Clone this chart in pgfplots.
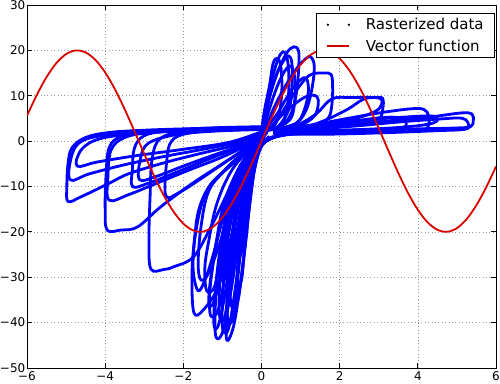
\documentclass[border=0pt]{standalone}
\usepackage{fontspec}
\setmainfont{DejaVu Sans}
\usepackage{pgfplots}
\pgfplotsset{compat=1.18}
\begin{document}
\begin{tikzpicture}
\begin{axis}[name=ax, scale only axis, width=469pt, height=363pt,
  xmin=-6, xmax=6, ymin=-50, ymax=30,
  xtick={-6,-4,...,6}, ytick={-50,-40,...,30},
  xticklabels={−6,−4,−2,0,2,4,6},
  yticklabels={−50,−40,−30,−20,−10,0,10,20,30},
  tick label style={font=\fontsize{12}{14.4}\selectfont},
  yticklabel style={inner xsep=0pt, xshift=-1.5pt},
  grid=major, grid style={gray!80, line width=0.6pt, dash pattern=on 0.8pt off 2.6pt},
  major tick length=5pt,
  tick style={black, line width=0.8pt},
  axis line style={line width=0.9pt},
  legend style={at={(1,1)}, anchor=north east, xshift=-1pt, yshift=-8pt,
    draw=black, line width=0.8pt, fill=white, font=\fontsize{15}{18}\selectfont,
    inner xsep=0pt, inner ysep=0.5pt, row sep=0pt, column sep=0pt,
    nodes={draw=none, fill=none, inner xsep=0pt, inner ysep=0pt}},
  legend cell align=left,
  blueline/.style={blue, line width=2.8pt, smooth, tension=0.6, line join=round, forget plot},
]
% ---- left loops
\addplot[blueline] coordinates {(0.2,3.1) (-1,2.9) (-2,2.7) (-3,2.4) (-3.9,1.9) (-4.5,0.8) (-4.85,-1.5) (-4.95,-5) (-4.98,-10) (-4.95,-13.3) (-4.6,-12.2) (-3.9,-9.3) (-3.4,-7.2) (-2.5,-4.8) (-1.5,-2.6) (-0.6,-0.8) (0,1) (0.2,3.1)};
\addplot[blueline] coordinates {(0.2,2.9) (-1.5,2.6) (-3,2.1) (-4,1.3) (-4.6,0) (-4.85,-3) (-4.9,-8.5) (-4.4,-7.2) (-3.5,-5.2) (-2.5,-3.4) (-1.5,-1.8) (-0.5,0) (0.2,2.9)};
\addplot[blueline] coordinates {(0.2,2.7) (-1.5,2.4) (-3,1.8) (-4.1,0.6) (-4.6,-1.8) (-4.72,-5.5) (-4.2,-4.6) (-3.2,-3.2) (-2,-1.8) (-0.8,-0.2) (0.2,2.7)};
\addplot[blueline] coordinates {(0.2,3.2) (-1,3) (-2,2.6) (-3,2.0) (-3.6,1.0) (-3.9,-1.5) (-3.98,-8) (-4.0,-15) (-3.95,-19.6) (-3.6,-19.6) (-3.17,-18.9) (-2.58,-14.5) (-1.8,-9.5) (-1,-5) (-0.4,-1.5) (0.2,3.2)};
\addplot[blueline] coordinates {(0.2,2.8) (-1.5,2.5) (-2.8,1.9) (-3.5,0.8) (-3.85,-2) (-3.93,-8) (-3.9,-13) (-3.4,-11.8) (-2.6,-9) (-1.8,-6.2) (-1,-3.5) (-0.3,-0.5) (0.2,2.8)};
\addplot[blueline] coordinates {(0.2,3.0) (-1,2.7) (-2,2.1) (-2.6,0.5) (-2.8,-4) (-2.85,-12) (-2.88,-22) (-2.83,-28.2) (-2.5,-28.3) (-2.25,-27.7) (-1.74,-25.5) (-1.3,-19) (-0.9,-12) (-0.5,-5) (-0.1,0.5) (0.2,3.0)};
\addplot[blueline] coordinates {(0.2,2.7) (-1,2.4) (-1.9,1.7) (-2.3,0) (-2.42,-4) (-2.45,-12) (-2.1,-11.3) (-1.5,-8) (-0.9,-4.5) (-0.4,-1.5) (0.2,2.7)};
\addplot[blueline] coordinates {(0.2,3.0) (-1.2,2.7) (-2.4,2.2) (-3.0,1.2) (-3.25,-1.5) (-3.3,-6) (-3.3,-10) (-2.9,-9.3) (-2.1,-6.6) (-1.3,-3.8) (-0.5,-1) (0.2,3.0)};
\addplot[blueline] coordinates {(0.2,2.6) (-1.2,2.2) (-2.2,1.4) (-2.9,-0.5) (-3.1,-4) (-3.12,-8.5) (-2.7,-7.8) (-2.0,-5.5) (-1.2,-3) (-0.4,-0.6) (0.2,2.6)};
% ---- lower loops
\addplot[blueline] coordinates {(0.1,2) (-0.3,-1.5) (-0.8,-5.5) (-1.3,-9.5) (-1.6,-15) (-1.72,-22) (-1.78,-30) (-1.73,-37.8) (-1.5,-37.3) (-1.1,-32) (-0.8,-22) (-0.55,-13) (-0.3,-5) (0.0,-0.5) (0.5,1.3) (1.2,2)};
\addplot[blueline] coordinates {(0.1,2) (-0.25,-2) (-0.6,-8) (-0.9,-16) (-1.08,-26) (-1.18,-36) (-1.17,-43) (-1.0,-42.2) (-0.8,-34) (-0.62,-24) (-0.45,-15) (-0.25,-6) (0.05,-0.5) (0.5,1.2) (1.3,1.8)};
\addplot[blueline] coordinates {(0.15,2) (-0.15,-2) (-0.45,-9) (-0.68,-18) (-0.82,-30) (-0.9,-43.3) (-0.72,-41) (-0.55,-32) (-0.4,-22) (-0.28,-12) (-0.12,-4) (0.1,0) (0.6,1.4)};
\addplot[blueline] coordinates {(0.1,2) (-0.3,-2) (-0.7,-8) (-1.0,-15) (-1.2,-25) (-1.32,-33) (-1.3,-38.5) (-1.1,-37) (-0.9,-28) (-0.7,-18) (-0.45,-9) (-0.15,-2) (0.3,0.8)};
\addplot[blueline] coordinates {(0.1,2) (-0.2,-2) (-0.5,-8) (-0.7,-17) (-0.8,-27) (-0.78,-36) (-0.6,-35) (-0.45,-25) (-0.3,-14) (-0.15,-5) (0.1,0) (0.6,1.3)};
\addplot[blueline] coordinates {(0.1,2) (-0.4,-2) (-0.9,-6) (-1.35,-11) (-1.55,-19) (-1.62,-27) (-1.55,-30.6) (-1.35,-29) (-1.05,-22) (-0.75,-13) (-0.45,-6) (-0.1,-0.5) (0.1,2)};
\addplot[blueline] coordinates {(0.1,2) (-0.25,-2) (-0.55,-7) (-0.8,-14) (-0.95,-22) (-1.0,-29) (-0.9,-30) (-0.72,-25) (-0.55,-16) (-0.35,-8) (-0.1,-1.5) (0.3,0.8)};
\addplot[blueline] coordinates {(0.1,2) (-0.35,-2) (-0.8,-7) (-1.15,-14) (-1.35,-22) (-1.45,-28) (-1.4,-33) (-1.2,-32) (-1.0,-24) (-0.8,-15) (-0.5,-7) (-0.2,-1.5) (0.1,2)};
\addplot[blueline] coordinates {(0.1,2) (-0.2,-1) (-0.45,-6) (-0.62,-14) (-0.7,-22) (-0.65,-26) (-0.5,-24) (-0.35,-15) (-0.2,-7) (0,-1) (0.4,1)};
\addplot[blueline] coordinates {(0.1,2) (-0.3,-3) (-0.65,-10) (-0.9,-19) (-1.05,-29) (-1.08,-38) (-0.95,-39) (-0.78,-30) (-0.6,-20) (-0.42,-10) (-0.2,-3) (0.2,1)};
\addplot[blueline] coordinates {(0.1,2) (-0.2,-3) (-0.55,-12) (-0.75,-22) (-0.88,-33) (-0.85,-40) (-0.7,-38) (-0.58,-28) (-0.45,-18) (-0.3,-9) (-0.1,-2) (0.3,1)};
\addplot[blueline] coordinates {(0.1,2) (-0.3,-3) (-0.7,-11) (-0.98,-20) (-1.15,-30) (-1.22,-40) (-1.1,-40.5) (-0.9,-32) (-0.72,-21) (-0.5,-11) (-0.25,-4) (0.2,1)};
\addplot[blueline] coordinates {(0.0,2) (-0.15,-2) (-0.35,-8) (-0.5,-16) (-0.6,-26) (-0.62,-32) (-0.5,-30) (-0.4,-20) (-0.28,-10) (-0.1,-2) (0.3,1)};
\addplot[blueline] coordinates {(0.1,2) (-0.35,-3) (-0.75,-10) (-1.05,-18) (-1.25,-27) (-1.35,-35) (-1.25,-36) (-1.05,-30) (-0.85,-20) (-0.62,-11) (-0.35,-4) (0.1,0.8)};
\addplot[blueline] coordinates {(0.1,2) (-0.25,-3) (-0.6,-11) (-0.85,-21) (-0.98,-32) (-1.0,-41) (-0.85,-41.5) (-0.68,-33) (-0.52,-22) (-0.38,-12) (-0.2,-4) (0.2,1)};
\addplot[blueline] coordinates {(0.1,2) (-0.45,-2.5) (-1.0,-7) (-1.45,-12) (-1.68,-20) (-1.75,-28) (-1.62,-33) (-1.42,-30) (-1.2,-24) (-0.95,-16) (-0.6,-8) (-0.2,-1.5) (0.1,2)};
% ---- upper loops
\addplot[blueline] coordinates {(0.1,2.5) (0.12,6) (0.25,11) (0.45,16) (0.65,19.5) (0.83,20.8) (0.95,19.8) (0.95,16) (0.9,11) (0.8,7) (0.6,4) (0.3,2.6)};
\addplot[blueline] coordinates {(0.05,2.5) (0.1,7) (0.22,12) (0.38,17) (0.5,19.3) (0.6,19.5) (0.68,17) (0.7,12) (0.65,7) (0.5,3.5) (0.2,2.6)};
\addplot[blueline] coordinates {(0.0,2.3) (0.08,7) (0.2,12) (0.3,17.2) (0.42,18.2) (0.5,16) (0.52,11) (0.45,6) (0.3,3) (0.1,2.4)};
\addplot[blueline] coordinates {(0.1,2.5) (0.3,7) (0.6,12) (0.9,16) (1.15,18.3) (1.27,18.5) (1.35,16.5) (1.3,12) (1.15,7) (0.9,4) (0.5,2.8)};
\addplot[blueline] coordinates {(0.2,2.5) (0.5,6) (0.8,10) (1.1,13.5) (1.3,14.8) (1.6,15) (1.78,14.7) (1.82,12) (1.8,8) (1.7,5) (1.3,3.2) (0.6,2.6)};
\addplot[blueline] coordinates {(0.2,2.5) (0.5,5.5) (0.9,8.5) (1.2,10) (1.42,9.8) (1.45,8) (1.35,5.5) (1,3.5) (0.5,2.6)};
\addplot[blueline] coordinates {(0.1,2.5) (0.4,6) (0.75,11) (1.0,13.5) (1.15,13.8) (1.2,11) (1.1,7) (0.9,4) (0.4,2.7)};
\addplot[blueline] coordinates {(0.0,2.4) (0.15,8) (0.35,14) (0.55,17.5) (0.7,18.8) (0.78,17) (0.78,12) (0.7,7) (0.4,3) (0.1,2.4)};
\addplot[blueline] coordinates {(0.05,2.4) (0.2,7) (0.4,12) (0.6,15.5) (0.75,16.5) (0.85,14) (0.85,9) (0.75,5) (0.4,2.8)};
% ---- right loops
\addplot[blueline] coordinates {(0.3,2.0) (1,2.0) (2,2.2) (3,2.5) (4,2.7) (5,2.9) (5.35,3.2) (5.42,4.5) (5.38,6.0) (5.1,6.2) (4.3,5.3) (3.3,4.5) (2.2,3.8) (1.2,3.0) (0.3,2.4)};
\addplot[blueline] coordinates {(0.3,1.8) (1.2,1.8) (2.2,2.0) (3.2,2.2) (4.0,2.4) (4.25,3.0) (4.28,5.5) (4.15,7.0) (3.8,7.1) (3,6.2) (2.2,5) (1.3,3.6) (0.4,2.5)};
\addplot[blueline] coordinates {(0.3,2.2) (1.0,2.8) (1.6,4.5) (2.2,7) (2.6,9.2) (2.9,9.6) (3.1,9.4) (3.1,7) (3.0,5) (2.5,3.8) (1.5,3) (0.4,2.5)};
\addplot[blueline] coordinates {(0.3,2.1) (1.5,2.3) (2.5,2.5) (3.5,2.7) (3.7,3.5) (3.6,5.0) (3.1,5.2) (2.0,4.0) (1,3) (0.3,2.4)};
\addplot[blueline] coordinates {(0.3,1.6) (1.5,1.5) (3,1.8) (4.5,2.3) (5.2,2.6) (5.3,3.5) (5.15,5.0) (4.6,4.9) (3.5,4.2) (2.5,3.4) (1.3,2.6) (0.3,2.2)};
\addplot[blueline] coordinates {(0.3,2.3) (0.9,3.5) (1.4,6) (1.8,9.3) (2.3,9.6) (3.0,9.5) (3.07,8) (2.9,6.5) (2.4,5) (1.6,3.8) (0.5,2.5)};
\addplot[blueline] coordinates {(0.3,2.0) (1.8,2.3) (3.5,3) (4.4,4.0) (4.4,5.5) (3.5,5.2) (2.5,4.5) (1.5,3.5) (0.3,2.4)};
% ---- legend entry for the rasterized data
\addlegendimage{legend image code/.code={\path[draw=none, fill=none] (-10pt,-10.8pt) rectangle (39pt,10.8pt); \fill[black] (1pt,0pt) circle (0.7pt); \fill[black] (22pt,0pt) circle (0.7pt);}}
\addlegendentry{Rasterized data\hspace*{11pt}}
% ---- vector function
\addplot[red!85!black, line width=1.8pt, smooth,
  legend image code/.code={\path[draw=none, fill=none] (-10pt,-10.8pt) rectangle (39pt,10.8pt); \draw[red!85!black, line width=1.8pt] (0pt,0pt) -- (22pt,0pt);}]
  coordinates {
(-6,5.59) (-5.75,10.17) (-5.5,14.11) (-5.25,17.18) (-5,19.18) (-4.75,19.99) (-4.5,19.55) (-4.25,17.90) (-4,15.14) (-3.75,11.43) (-3.5,7.02) (-3.25,2.16) (-3,-2.82) (-2.75,-7.63) (-2.5,-11.97) (-2.25,-15.56) (-2,-18.19) (-1.75,-19.68) (-1.5,-19.95) (-1.25,-18.98) (-1,-16.83) (-0.75,-13.63) (-0.5,-9.59) (-0.25,-4.95) (0,0)
(0.25,4.95) (0.5,9.59) (0.75,13.63) (1,16.83) (1.25,18.98) (1.5,19.95) (1.75,19.68) (2,18.19) (2.25,15.56) (2.5,11.97) (2.75,7.63) (3,2.82) (3.25,-2.16) (3.5,-7.02) (3.75,-11.43) (4,-15.14) (4.25,-17.90) (4.5,-19.55) (4.75,-19.99) (5,-19.18) (5.25,-17.18) (5.5,-14.11) (5.75,-10.17) (6,-5.59)};
\addlegendentry{Vector function\hspace*{11pt}}
\end{axis}
\pgfresetboundingbox
\path[use as bounding box] ([shift={(-27pt,-16pt)}]ax.south west) rectangle ([shift={(4pt,5pt)}]ax.north east);
\end{tikzpicture}
\end{document}
